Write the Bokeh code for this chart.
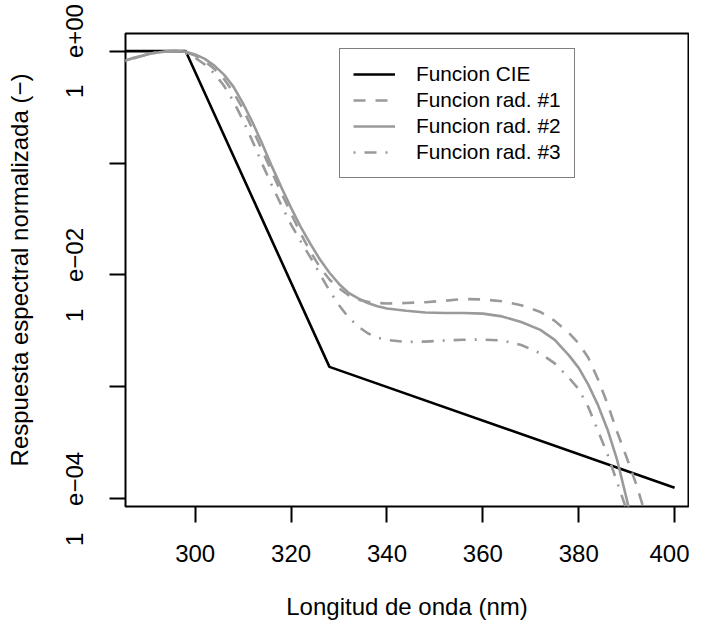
from bokeh.plotting import figure
from bokeh.models import Range1d, FixedTicker, CustomJSTickFormatter, Legend, LegendItem
from bokeh.embed import file_html
from bokeh.resources import INLINE

# ---------------- data ----------------
# CIE erythemal action spectrum break points
cie_wl = [280, 298, 328, 400]
cie_resp = [1.0, 1.0, 1.51e-3, 1.26e-4]

# radiometer response curves (log10 of normalised response)
rad_wl = [285, 288, 291, 294, 296, 298, 300, 302, 304, 306, 308, 310, 312, 314,
          316, 318, 320, 322, 324, 326, 328, 330, 332, 334, 336, 338, 340, 344,
          348, 352, 356, 360, 364, 368, 372, 375, 378, 380, 382, 384, 386, 388,
          390, 392, 394]
rad1_log10 = [-0.09, -0.05, -0.02, -0.003, 0.0, -0.01, -0.04, -0.09, -0.16, -0.25,
              -0.37, -0.52, -0.70, -0.89, -1.08, -1.27, -1.45, -1.63, -1.79, -1.93,
              -2.04, -2.12, -2.18, -2.22, -2.24, -2.25, -2.255, -2.25, -2.243, -2.23,
              -2.215, -2.218, -2.235, -2.27, -2.33, -2.41, -2.52, -2.61, -2.74, -2.93,
              -3.15, -3.40, -3.63, -3.87, -4.15]
rad2_log10 = [-0.09, -0.05, -0.02, -0.003, 0.0, -0.005, -0.03, -0.07, -0.13, -0.21,
              -0.32, -0.47, -0.64, -0.83, -1.03, -1.22, -1.40, -1.57, -1.72, -1.86,
              -1.98, -2.08, -2.16, -2.21, -2.25, -2.28, -2.30, -2.32, -2.335, -2.34,
              -2.34, -2.345, -2.37, -2.42, -2.49, -2.58, -2.72, -2.83, -2.98, -3.16,
              -3.38, -3.65, -4.00, -4.40, -4.80]
rad3_log10 = [-0.10, -0.055, -0.02, -0.003, 0.0, -0.02, -0.06, -0.12, -0.20, -0.31,
              -0.45, -0.62, -0.81, -1.01, -1.20, -1.38, -1.55, -1.70, -1.84, -1.99,
              -2.14, -2.27, -2.38, -2.46, -2.52, -2.56, -2.58, -2.598, -2.595, -2.585,
              -2.578, -2.577, -2.585, -2.625, -2.70, -2.79, -2.92, -3.02, -3.18, -3.39,
              -3.60, -3.85, -4.10, -4.40, -4.70]

series_names = ["Funcion CIE", "Funcion rad. #1", "Funcion rad. #2", "Funcion rad. #3"]

x_ticks = [300, 320, 340, 360, 380, 400]
y_ticks = [1.0, 0.1, 0.01, 0.001, 0.0001]
y_tick_labels = ["1\u00a0\u00a0\u00a0\u00a0e+00", "", "1\u00a0\u00a0\u00a0\u00a0e\u221202",
                 "", "1\u00a0\u00a0\u00a0\u00a0e\u221204"]

x_title = "Longitud de onda (nm)"
y_title = "Respuesta espectral normalizada (\u2212)"

# ---------------- figure ----------------
rad1 = [10 ** v for v in rad1_log10]
rad2 = [10 ** v for v in rad2_log10]
rad3 = [10 ** v for v in rad3_log10]

FONT = "Liberation Sans"
GRAY = "#9a9a9a"

p = figure(width=689, height=625, y_axis_type="log",
           x_range=Range1d(285.46, 402.9),
           y_range=Range1d(10 ** -4.068, 10 ** 0.157),
           output_backend="svg", toolbar_location=None,
           min_border_left=125, min_border_right=1,
           min_border_top=33, min_border_bottom=119)
p.background_fill_color = "white"
p.border_fill_color = "white"
p.xgrid.visible = False
p.ygrid.visible = False
p.outline_line_color = "black"
p.outline_line_width = 2

r0 = p.line(cie_wl, cie_resp, line_color="black", line_width=2.6)
r1 = p.line(rad_wl, rad1, line_color=GRAY, line_width=2.6, line_dash="12 10")
r2 = p.line(rad_wl, rad2, line_color=GRAY, line_width=2.6)
r3 = p.line(rad_wl, rad3, line_color=GRAY, line_width=2.6, line_dash="2 9 12 9")

# axes
xa = p.xaxis[0]
ya = p.yaxis[0]
xa.ticker = FixedTicker(ticks=x_ticks)
ya.ticker = FixedTicker(ticks=y_ticks)
ya.formatter = CustomJSTickFormatter(
    args=dict(tvals=y_ticks, tlabels=y_tick_labels),
    code="""
    for (let i = 0; i < tvals.length; i++) {
        if (Math.abs(Math.log10(tvals[i]) - Math.log10(tick)) < 1e-6) return tlabels[i];
    }
    return "";
    """)
ya.major_label_orientation = "vertical"
for ax in (xa, ya):
    ax.axis_line_color = None
    ax.major_tick_line_color = "black"
    ax.major_tick_line_width = 2
    ax.major_tick_out = 16
    ax.major_tick_in = 0
    ax.minor_tick_line_color = None
    ax.major_label_text_font = FONT
    ax.major_label_text_font_size = "24px"
    ax.major_label_text_color = "black"
    ax.axis_label_text_font = FONT
    ax.axis_label_text_font_size = "24px"
    ax.axis_label_text_font_style = "normal"
    ax.axis_label_text_color = "black"
xa.axis_label = x_title
ya.axis_label = y_title
xa.major_label_standoff = 22
xa.axis_label_standoff = 28
ya.major_label_standoff = 21
ya.axis_label_standoff = 26

legend = Legend(items=[LegendItem(label=series_names[0], renderers=[r0]),
                       LegendItem(label=series_names[1], renderers=[r1]),
                       LegendItem(label=series_names[2], renderers=[r2]),
                       LegendItem(label=series_names[3], renderers=[r3])],
                location=(214, 328))
legend.border_line_color = "black"
legend.border_line_width = 1.5
legend.background_fill_color = "white"
legend.background_fill_alpha = 1
legend.padding = 13
legend.spacing = 2
legend.margin = 0
legend.glyph_width = 42
legend.glyph_height = 20
legend.label_height = 20
legend.label_standoff = 21
legend.label_text_font = FONT
legend.label_text_font_size = "20.8px"
legend.label_text_color = "black"
p.add_layout(legend)

open("out.html", "w").write(file_html(p, INLINE))
